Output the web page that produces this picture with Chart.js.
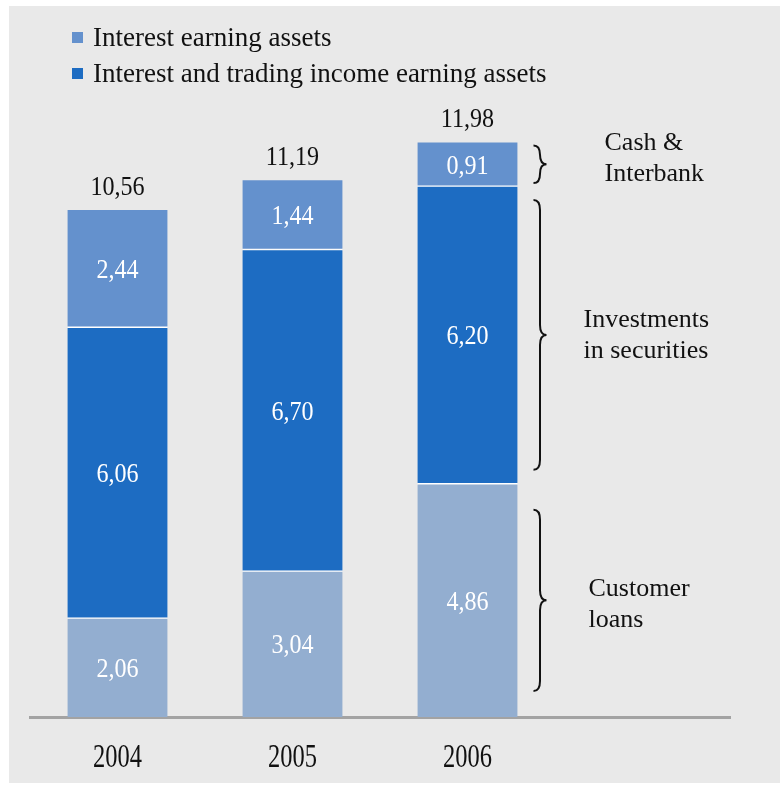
<!DOCTYPE html>
<html>
<head>
<meta charset="utf-8">
<script src="https://cdn.jsdelivr.net/npm/chart.js@4"></script>
<style>
  html, body { margin: 0; padding: 0; background: #fff; }
  .frame { position: relative; width: 780px; height: 785px; }
  .panel { position: absolute; left: 9px; top: 6px; right: 0; bottom: 2px; background: #e9e9e9; }
  .frame canvas { position: absolute; left: 0; top: 0; }
  .legend { position: absolute; left: 72px; top: 19px; font-family: "Liberation Serif", serif; font-size: 27px; color: #111; }
  .legend .row { height: 36px; line-height: 36px; display: flex; align-items: center; white-space: nowrap; }
  .legend .box { width: 11px; height: 11px; margin-right: 10px; }
</style>
</head>
<body>
<div class="frame">
  <div class="panel"></div>
  <canvas id="assets" width="780" height="785"></canvas>
  <div class="legend" id="legend"></div>
</div>
<script>
const years = ['2004', '2005', '2006'];
const customerLoans = [2.06, 3.04, 4.86];
const investments = [6.06, 6.70, 6.20];
const cashInterbank = [2.44, 1.44, 0.91];
const totals = [10.56, 11.19, 11.98];

// segment names drawn beside the last bar
const segmentNotes = [
  { dataset: 2, lines: ['Cash &', 'Interbank'], inset: 3, dx: 87, dy: -6 },
  { dataset: 1, lines: ['Investments', 'in securities'], inset: 14, dx: 66, dy: 1 },
  { dataset: 0, lines: ['Customer', 'loans'], inset: 26, dx: 71, dy: 4 }
];

const SERIF = '"Liberation Serif", "Times New Roman", serif';
const fmt = v => v.toFixed(2).replace('.', ',');

// narrow serif text, squeezed horizontally
function squeezed(ctx, text, x, y, size, sx, color, align) {
  ctx.save();
  ctx.translate(x, y);
  ctx.scale(sx, 1);
  ctx.font = size + 'px ' + SERIF;
  ctx.fillStyle = color;
  ctx.textAlign = align || 'center';
  ctx.textBaseline = 'middle';
  ctx.fillText(text, 0, 0);
  ctx.restore();
}

function brace(ctx, x, top, bottom, w) {
  const mid = (top + bottom) / 2;
  const r = Math.min(10, (bottom - top) / 4);
  const sx = x + w / 2;
  ctx.beginPath();
  ctx.moveTo(x, top);
  ctx.quadraticCurveTo(sx, top, sx, top + r);
  ctx.lineTo(sx, mid - r);
  ctx.quadraticCurveTo(sx, mid, x + w, mid);
  ctx.quadraticCurveTo(sx, mid, sx, mid + r);
  ctx.lineTo(sx, bottom - r);
  ctx.quadraticCurveTo(sx, bottom, x, bottom);
  ctx.stroke();
}

const labelsPlugin = {
  id: 'barLabels',
  afterDatasetsDraw(chart) {
    const ctx = chart.ctx;
    const xs = chart.scales.x, ys = chart.scales.y;

    // values inside each segment
    chart.data.datasets.forEach((ds, di) => {
      chart.getDatasetMeta(di).data.forEach((bar, i) => {
        squeezed(ctx, fmt(ds.data[i]), bar.x, (bar.y + bar.base) / 2 + 2, 28, 0.86, '#ffffff');
      });
    });

    // totals above the stacks
    totals.forEach((t, i) => {
      squeezed(ctx, fmt(t), xs.getPixelForValue(i), ys.getPixelForValue(t) - 22, 28, 0.86, '#111111');
    });

    // year labels under the axis
    years.forEach((y, i) => {
      squeezed(ctx, y, xs.getPixelForValue(i), 758, 34, 0.72, '#111111');
    });

    // braces and segment names next to the last bar
    const last = years.length - 1;
    ctx.save();
    ctx.strokeStyle = '#111111';
    ctx.lineWidth = 2;
    segmentNotes.forEach(note => {
      const bar = chart.getDatasetMeta(note.dataset).data[last];
      const right = bar.x + bar.width / 2;
      const top = Math.min(bar.y, bar.base) + note.inset;
      const bottom = Math.max(bar.y, bar.base) - note.inset;
      brace(ctx, right + 16, top, bottom, 13);
      const cy = (bar.y + bar.base) / 2 + note.dy;
      note.lines.forEach((line, k) => {
        const ly = cy + (k - (note.lines.length - 1) / 2) * 31;
        squeezed(ctx, line, right + note.dx, ly, 26, 1, '#111111', 'left');
      });
    });
    ctx.restore();
  }
};

const chart = new Chart(document.getElementById('assets'), {
  type: 'bar',
  data: {
    labels: [...years, ''],
    datasets: [
      {
        label: 'Customer loans',
        data: customerLoans,
        backgroundColor: '#93aed0',
        borderColor: '#ffffff',
        borderWidth: { top: 1, bottom: 0, left: 0, right: 0 },
        borderSkipped: false,
        inLegend: false
      },
      {
        label: 'Interest and trading income earning assets',
        data: investments,
        backgroundColor: '#1d6cc2',
        borderColor: '#ffffff',
        borderWidth: { top: 1, bottom: 1, left: 0, right: 0 },
        borderSkipped: false,
        legendOrder: 1
      },
      {
        label: 'Interest earning assets',
        data: cashInterbank,
        backgroundColor: '#6491cd',
        borderColor: '#ffffff',
        borderWidth: { top: 0, bottom: 1, left: 0, right: 0 },
        borderSkipped: false,
        legendOrder: 0
      }
    ]
  },
  options: {
    responsive: false,
    animation: false,
    layout: { padding: { left: 30, right: 50, top: 117, bottom: 0 } },
    scales: {
      x: {
        stacked: true,
        grid: { display: false },
        border: { display: true, color: '#a3a3a3', width: 3 },
        ticks: { display: false },
        afterFit: scale => { scale.height = 68; }
      },
      y: {
        stacked: true,
        display: false,
        min: 0,
        max: 12.5
      }
    },
    datasets: { bar: { barThickness: 100 } },
    plugins: {
      legend: { display: false },
      tooltip: { enabled: false }
    }
  },
  plugins: [labelsPlugin]
});

// legend rows built from the datasets
const legendEl = document.getElementById('legend');
chart.data.datasets
  .filter(ds => ds.inLegend !== false)
  .sort((a, b) => a.legendOrder - b.legendOrder)
  .forEach(ds => {
    const row = document.createElement('div');
    row.className = 'row';
    const box = document.createElement('span');
    box.className = 'box';
    box.style.background = ds.backgroundColor;
    const txt = document.createElement('span');
    txt.textContent = ds.label;
    row.appendChild(box);
    row.appendChild(txt);
    legendEl.appendChild(row);
  });
</script>
</body>
</html>
